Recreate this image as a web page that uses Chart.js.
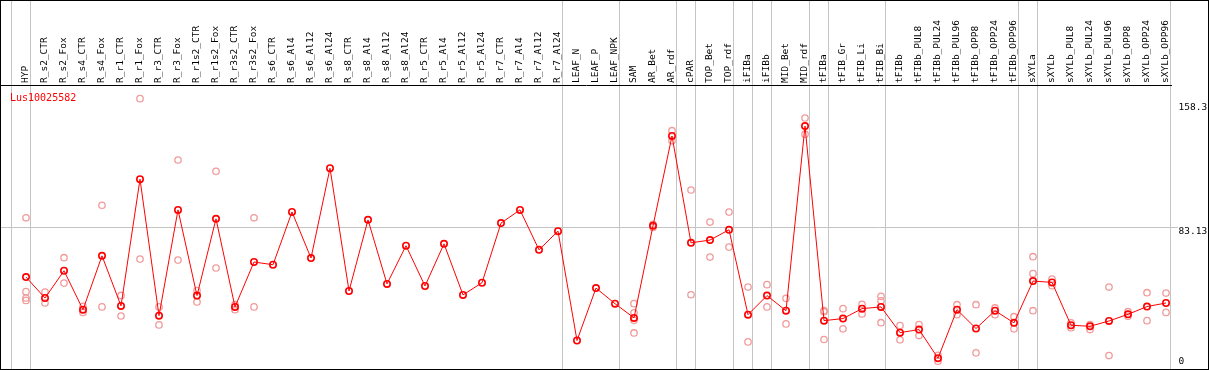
<!DOCTYPE html>
<html>
<head>
<meta charset="utf-8">
<script src="https://cdn.jsdelivr.net/npm/chart.js@4.4.1/dist/chart.umd.min.js"></script>
<style>
  html, body { margin: 0; padding: 0; background: #fff; }
  #wrap { position: relative; width: 1209px; height: 370px; }
  #frame { position: absolute; left: 0; top: 0; width: 1209px; height: 370px; box-sizing: border-box; border: 1px solid #000; pointer-events: none; }
</style>
</head>
<body>
<div id="wrap">
  <canvas id="geneChart" width="1209" height="370"></canvas>
  <div id="frame"></div>
</div>
<script>
const _ = null;
const geneName = "Lus10025582";

const categories = ["HYP", "R_s2_CTR", "R_s2_Fox", "R_s4_CTR", "R_s4_Fox", "R_r1_CTR", "R_r1_Fox", "R_r3_CTR", "R_r3_Fox",
    "R_r1s2_CTR", "R_r1s2_Fox", "R_r3s2_CTR", "R_r3s2_Fox", "R_s6_CTR", "R_s6_Al4", "R_s6_Al12", "R_s6_Al24",
    "R_s8_CTR", "R_s8_Al4", "R_s8_Al12", "R_s8_Al24", "R_r5_CTR", "R_r5_Al4", "R_r5_Al12", "R_r5_Al24",
    "R_r7_CTR", "R_r7_Al4", "R_r7_Al12", "R_r7_Al24", "LEAF_N", "LEAF_P", "LEAF_NPK", "SAM", "AR_Bet", "AR_rdf",
    "cPAR", "TOP_Bet", "TOP_rdf", "iFIBa", "iFIBb", "MID_Bet", "MID_rdf", "tFIBa", "tFIB_Gr", "tFIB_Li", "tFIB_Bi",
    "tFIBb", "tFIBb_PUL8", "tFIBb_PUL24", "tFIBb_PUL96", "tFIBb_OPP8", "tFIBb_OPP24", "tFIBb_OPP96",
    "sXYLa", "sXYLb", "sXYLb_PUL8", "sXYLb_PUL24", "sXYLb_PUL96", "sXYLb_OPP8", "sXYLb_OPP24", "sXYLb_OPP96"];

// mean per sample
const meanValues = [54.2, 42.0, 57.9, 35.2, 66.6, 37.4, 111.3, 31.7, 93.4, 43.4, 88.2, 36.8, 63.0,
    61.4, 92.2, 65.3, 117.7, 46.1, 87.6, 50.2, 72.5, 49.0, 73.6, 43.8, 50.9, 85.7, 93.4, 70.1, 81.0,
    17.2, 47.8, 38.7, 30.4, 84.1, 136.5, 74.2, 75.8, 81.8, 32.3, 43.4, 34.6, 142.3, 28.8, 30.0, 35.8, 36.8,
    21.8, 23.6, 6.9, 35.2, 24.2, 34.6, 27.5, 51.9, 51.1, 26.1, 25.5, 28.6, 32.5, 37.0, 39.1];

// replicates
const rep1 = [88.8, 45.5, 65.5, 37.1, 96.1, 43.5, 158.3, 36.8, 122.5, 46.3, 115.9, 38.1, 88.8,
    _, _, _, _, _, _, _, _, _, _, _, _, _, _, _, _, _, _, _,
    38.7, 85.0, 139.6, 105.0, 86.3, 92.1, 48.4, 49.8, 41.8, 147.0, 34.6, 35.8, 38.3, 43.0,
    25.9, 26.5, 8.6, 38.1, 38.1, 36.2, 31.1, 66.1, 53.1, 27.5, 26.5, 48.4, 34.0, 45.1, 44.9];
const rep2 = [45.7, 39.1, 50.7, 33.6, 36.8, 31.5, 64.7, 26.3, 64.1, 39.7, 59.5, 35.2, 36.8,
    _, _, _, _, _, _, _, _, _, _, _, _, _, _, _, _, _, _, _,
    33.4, 83.2, 133.7, 43.9, 65.9, 71.7, 16.4, 36.8, 26.9, 137.6, 34.0, 24.0, 32.7, 40.4,
    17.6, 20.1, 5.1, 32.3, 10.0, 32.3, 24.0, 56.2, 49.2, 24.7, 23.6, 8.4, 31.3, 28.8, 33.6];
const rep3 = [42.0, _, _, _, _, _, _, _, _, _, _, _, _,
    _, _, _, _, _, _, _, _, _, _, _, _, _, _, _, _, _, _, _,
    29.0, _, _, _, _, _, _, _, _, _, 17.8, _, _, 27.6,
    _, _, _, _, _, _, _, 34.6, _, _, _, _, _, _, _];
const rep4 = [40.6, _, _, _, _, _, _, _, _, _, _, _, _,
    _, _, _, _, _, _, _, _, _, _, _, _, _, _, _, _, _, _, _,
    21.6, _, _, _, _, _, _, _, _, _, _, _, _, _,
    _, _, _, _, _, _, _, _, _, _, _, _, _, _, _];

// vertical separators sit just after these sample indexes
const groupBreaks = [-1, 0, 28, 31, 34, 35, 37, 38, 39, 41, 42, 45, 52, 53, 60];

const yTicks = [0, 83.13, 158.3];
const yTickLabels = ["0", "83.13", "158.3"];

const fontFamily = "'DejaVu Sans Mono', monospace";
const gridGrey = '#c4c4c4';
const none = 'rgba(0,0,0,0)';
const sepOffset = 0.237;

function points(arr) {
    return arr.map((v, i) => ({ x: i, y: v })).filter(p => p.y !== null);
}

function repSet(arr) {
    return {
        data: points(arr),
        showLine: false,
        borderColor: '#f19b9b',
        pointBorderColor: '#f19b9b',
        pointBackgroundColor: none,
        pointRadius: 3.2,
        pointBorderWidth: 1.3
    };
}

// gene name in the corner + right-hand value labels (nudged like the original)
const extraText = {
    id: 'extraText',
    afterDraw(chart) {
        const ctx = chart.ctx;
        const area = chart.chartArea;
        const yScale = chart.scales.y;
        ctx.save();
        ctx.font = "10px " + fontFamily;
        ctx.fillStyle = '#ff0000';
        ctx.textBaseline = 'top';
        ctx.fillText(geneName, area.left + 9, area.top + 8);

        ctx.font = "9.5px " + fontFamily;
        ctx.fillStyle = '#000';
        ctx.textBaseline = 'middle';
        const nudge = [-8.5, 4.3, 8.4];
        yTicks.forEach((v, i) => {
            ctx.fillText(yTickLabels[i], area.right + 7.5, yScale.getPixelForValue(v) + nudge[i]);
        });
        ctx.restore();
    }
};

let geneChart = document.getElementById('geneChart').getContext('2d');

let theGeneChart = new Chart(geneChart, {
    type: 'line',
    data: {
        datasets: [
            {
                data: points(meanValues),
                borderColor: '#ff0000',
                borderWidth: 1,
                tension: 0,
                fill: false,
                pointBorderColor: '#ff0000',
                pointBackgroundColor: none,
                pointRadius: 3.2,
                pointBorderWidth: 1.6
            },
            repSet(rep1),
            repSet(rep2),
            repSet(rep3),
            repSet(rep4)
        ]
    },
    options: {
        responsive: false,
        animation: false,
        devicePixelRatio: 1,
        layout: { autoPadding: false, padding: { left: 1, top: 0, right: 0, bottom: 0 } },
        plugins: { legend: { display: false }, tooltip: { enabled: false } },
        scales: {
            x: {
                type: 'linear',
                position: 'top',
                min: -1.316,
                max: 60.263,
                afterBuildTicks: s => {
                    const t = categories.map((c, i) => i).concat(groupBreaks.map(b => b + sepOffset));
                    s.ticks = t.sort((a, b) => a - b).map(v => ({ value: v }));
                },
                afterFit: s => { s.height = 85; },
                ticks: {
                    autoSkip: false,
                    minRotation: 90,
                    maxRotation: 90,
                    padding: -83,
                    labelOffset: 11.4,
                    color: '#000',
                    font: { family: fontFamily, size: 9.5, lineHeight: 1.2 },
                    callback: v => Number.isInteger(v) ? categories[v] : ''
                },
                grid: {
                    color: c => (c.tick && !Number.isInteger(c.tick.value)) ? gridGrey : none,
                    tickLength: 85,
                    lineWidth: 1
                },
                border: { display: true, color: '#000', width: 1 }
            },
            y: {
                position: 'right',
                min: 0,
                max: 166.26,
                afterBuildTicks: s => { s.ticks = yTicks.map(v => ({ value: v })); },
                afterFit: s => { s.width = 38; },
                ticks: { display: false },
                grid: {
                    color: c => (c.tick && c.tick.value === 83.13) ? gridGrey : none,
                    tickLength: 7,
                    lineWidth: 1
                },
                border: { display: false }
            }
        }
    },
    plugins: [extraText]
});
</script>
</body>
</html>
